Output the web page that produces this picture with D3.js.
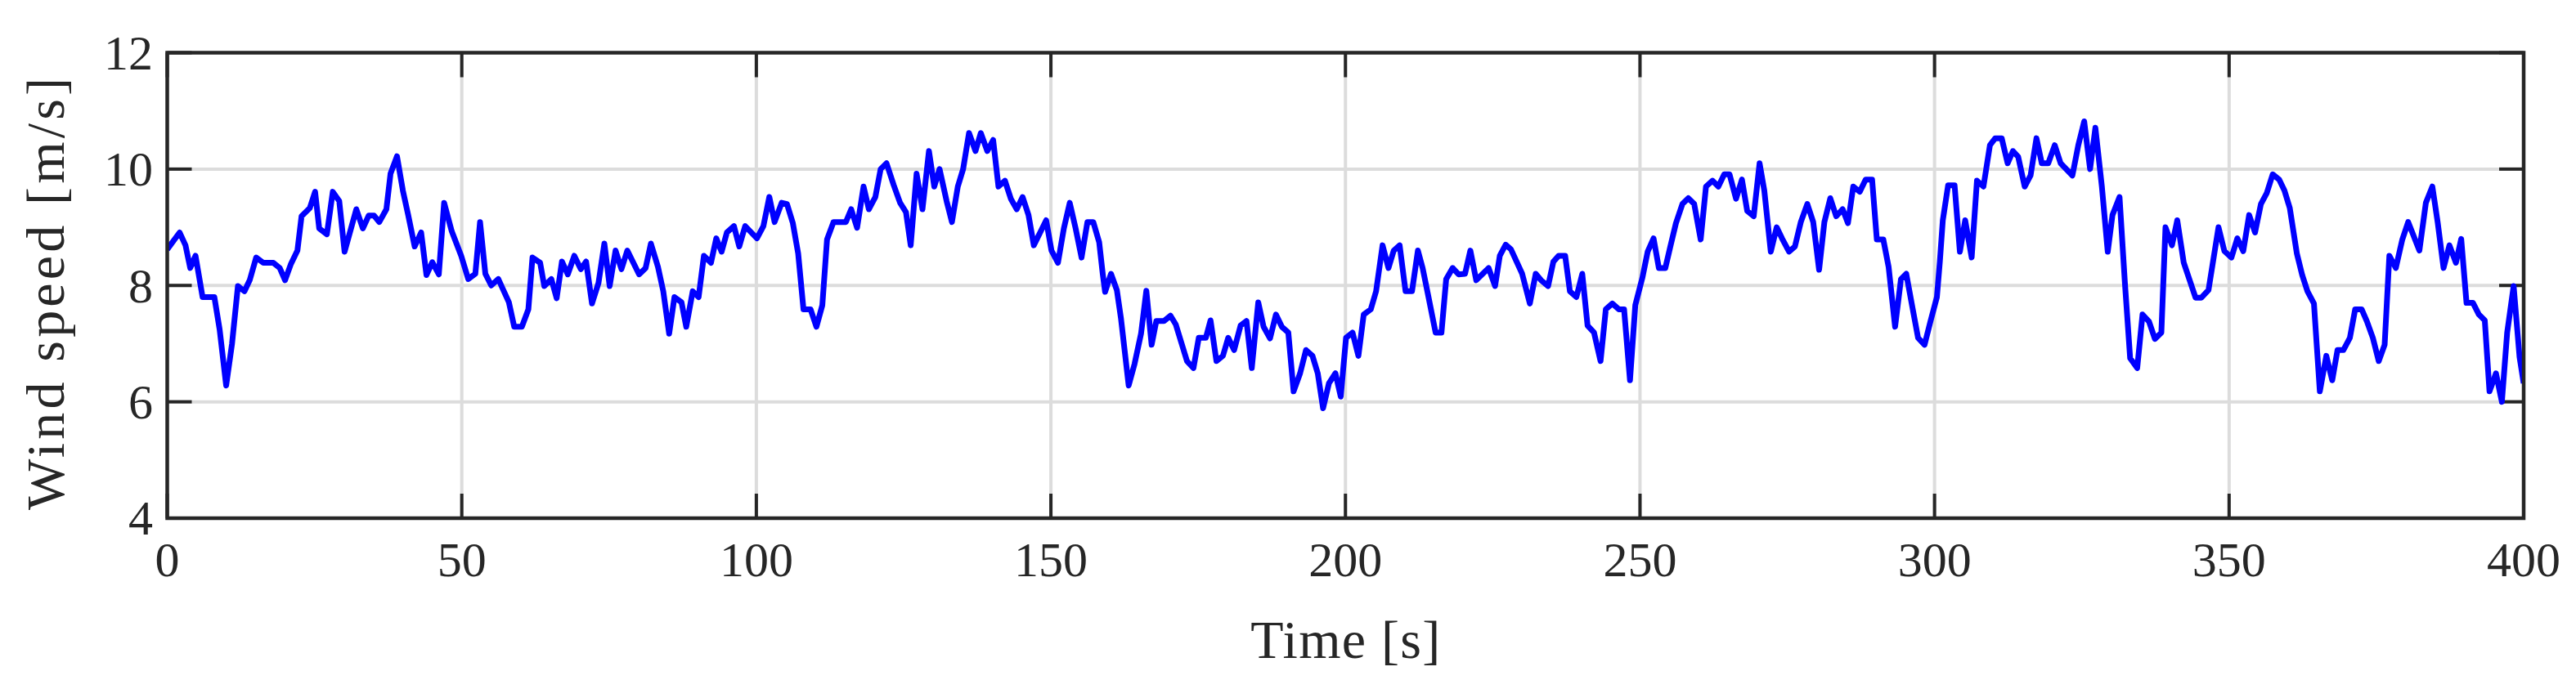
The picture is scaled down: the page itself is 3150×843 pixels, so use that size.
<!DOCTYPE html>
<html>
<head>
<meta charset="utf-8">
<script src="https://cdn.jsdelivr.net/npm/d3@7"></script>
<style>
  html, body { margin: 0; padding: 0; background: #ffffff; }
  svg { display: block; }
</style>
</head>
<body>
<svg id="chart" width="3150" height="843"></svg>
<script>
// ---- data ----
const timeS = [
  0, 2.1, 3.1, 3.9, 4.8, 6.0, 8.0, 8.9, 10.0, 11.0, 12.0, 13.1, 14.0, 15.1, 16.3, 18.0, 19.1, 20.0, 21.0, 22.1,
  22.8, 24.2, 25.1, 25.8, 27.1, 28.1, 29.2, 30.1, 32.1, 33.2, 34.2, 35.1, 36.0, 37.2, 37.9, 39.0, 40.0, 40.9, 42.0, 43.1,
  44.0, 45.0, 46.1, 47.0, 48.3, 49.9, 51.1, 52.3, 53.1, 54.0, 55.0, 56.2, 58.0, 58.9, 60.2, 61.3, 62.0, 63.3, 64.0, 65.2,
  66.1, 67.0, 68.0, 69.1, 70.2, 71.1, 72.1, 73.2, 74.2, 75.1, 76.1, 77.1, 78.1, 80.1, 81.2, 82.1, 83.3, 84.2, 85.2, 86.1,
  87.3, 88.1, 89.2, 90.2, 91.1, 92.3, 93.2, 94.1, 95.0, 96.2, 97.1, 98.1, 100.1, 101.2, 102.2, 103.1, 104.3, 105.2, 106.2, 107.1,
  108.0, 109.2, 110.2, 111.2, 112.0, 113.1, 115.2, 116.1, 117.1, 118.2, 119.1, 120.2, 121.1, 122.1, 123.3, 124.4, 125.4, 126.2, 127.2, 128.2,
  129.3, 130.2, 131.1, 132.3, 133.2, 134.2, 135.1, 136.1, 137.2, 138.1, 139.2, 140.2, 141.1, 142.2, 143.2, 144.2, 145.2, 146.2, 147.1, 149.2,
  150.1, 151.2, 152.2, 153.2, 154.2, 155.2, 156.2, 157.2, 158.2, 158.8, 159.2, 160.2, 161.2, 161.9, 163.2, 164.2, 165.3, 166.2, 167.1, 167.9,
  169.2, 170.3, 171.2, 173.1, 174.2, 175.1, 176.3, 177.1, 178.1, 179.2, 180.1, 181.1, 182.2, 183.2, 184.1, 185.2, 186.1, 187.2, 188.2, 189.2,
  190.3, 191.2, 192.3, 193.3, 194.4, 195.3, 196.2, 197.2, 198.3, 199.2, 200.1, 201.2, 202.2, 203.1, 204.3, 205.2, 206.3, 207.3, 208.2, 209.2,
  210.2, 211.3, 212.3, 213.1, 214.1, 215.3, 216.3, 217.1, 218.2, 219.2, 220.3, 221.2, 222.2, 223.3, 224.3, 225.4, 226.2, 227.2, 228.1, 230.0,
  231.3, 232.3, 233.2, 234.4, 235.3, 236.2, 237.3, 238.1, 239.2, 240.2, 241.1, 242.2, 243.3, 244.2, 245.3, 246.4, 247.3, 248.3, 249.2, 250.4,
  251.3, 252.3, 253.2, 254.3, 255.2, 256.1, 257.2, 258.2, 259.2, 260.3, 261.2, 262.3, 263.3, 264.3, 265.2, 266.3, 267.3, 268.2, 269.3, 270.3,
  271.1, 272.2, 273.2, 274.1, 275.3, 276.3, 277.3, 278.4, 279.4, 280.4, 281.3, 282.3, 283.3, 284.4, 285.3, 286.2, 287.3, 288.3, 289.4, 290.2,
  291.3, 292.2, 293.3, 294.3, 295.2, 296.3, 297.2, 298.3, 299.3, 300.4, 300.9, 301.4, 302.3, 303.4, 304.3, 305.2, 306.3, 307.2, 308.3, 309.4,
  310.3, 311.4, 312.4, 313.3, 314.2, 315.3, 316.3, 317.3, 318.2, 319.3, 320.4, 321.4, 323.4, 324.4, 325.4, 326.4, 327.3, 328.4, 329.4, 330.2,
  331.4, 332.3, 333.2, 334.4, 335.3, 336.4, 337.4, 338.5, 339.2, 340.3, 341.2, 342.3, 344.3, 345.3, 346.5, 348.2, 349.2, 350.4, 351.4, 352.4,
  353.4, 354.4, 355.4, 356.4, 357.4, 358.5, 359.4, 360.3, 361.5, 362.4, 363.3, 364.4, 365.4, 366.5, 367.5, 368.4, 369.4, 370.5, 371.4, 372.5,
  373.4, 374.4, 375.4, 376.4, 377.2, 378.3, 379.4, 380.4, 382.3, 383.4, 384.5, 385.4, 386.4, 387.4, 388.5, 389.4, 390.3, 391.4, 392.4, 393.4,
  394.2, 395.3, 396.3, 397.2, 398.3, 399.3, 400.0
];
const windSpeed = [
  8.62, 8.91, 8.69, 8.30, 8.51, 7.80, 7.80, 7.24, 6.28, 7.00, 7.99, 7.90, 8.09, 8.48, 8.39, 8.39, 8.30, 8.09, 8.37, 8.60,
  9.19, 9.33, 9.61, 8.98, 8.88, 9.61, 9.45, 8.58, 9.31, 8.98, 9.20, 9.20, 9.09, 9.31, 9.92, 10.22, 9.63, 9.21, 8.67, 8.91,
  8.18, 8.40, 8.19, 9.42, 8.93, 8.51, 8.11, 8.20, 9.09, 8.20, 8.00, 8.11, 7.71, 7.29, 7.29, 7.59, 8.48, 8.39, 7.99, 8.11,
  7.78, 8.41, 8.19, 8.51, 8.28, 8.41, 7.69, 8.04, 8.72, 7.99, 8.60, 8.28, 8.60, 8.19, 8.30, 8.72, 8.32, 7.90, 7.17, 7.80,
  7.71, 7.29, 7.90, 7.80, 8.51, 8.39, 8.81, 8.58, 8.91, 9.02, 8.67, 9.02, 8.81, 9.02, 9.52, 9.09, 9.42, 9.40, 9.07, 8.55,
  7.59, 7.59, 7.29, 7.66, 8.79, 9.09, 9.09, 9.31, 8.99, 9.70, 9.31, 9.52, 10.00, 10.10, 9.73, 9.42, 9.26, 8.69, 9.92, 9.31,
  10.31, 9.70, 10.00, 9.45, 9.09, 9.70, 10.00, 10.62, 10.31, 10.62, 10.31, 10.50, 9.70, 9.80, 9.49, 9.31, 9.52, 9.21, 8.69, 9.12,
  8.60, 8.39, 8.98, 9.42, 8.98, 8.48, 9.09, 9.09, 8.74, 8.20, 7.89, 8.20, 7.92, 7.43, 6.28, 6.65, 7.17, 7.91, 6.98, 7.39,
  7.39, 7.48, 7.33, 6.70, 6.58, 7.10, 7.10, 7.40, 6.70, 6.79, 7.10, 6.89, 7.31, 7.39, 6.58, 7.71, 7.29, 7.09, 7.50, 7.29,
  7.19, 6.18, 6.49, 6.89, 6.79, 6.49, 5.89, 6.32, 6.49, 6.09, 7.10, 7.19, 6.79, 7.50, 7.59, 7.90, 8.69, 8.30, 8.60, 8.69,
  7.90, 7.90, 8.60, 8.30, 7.80, 7.19, 7.19, 8.11, 8.30, 8.19, 8.20, 8.60, 8.09, 8.20, 8.30, 7.99, 8.51, 8.70, 8.62, 8.20,
  7.69, 8.20, 8.09, 7.99, 8.41, 8.51, 8.51, 7.90, 7.80, 8.20, 7.31, 7.19, 6.70, 7.59, 7.69, 7.59, 7.59, 6.37, 7.66, 8.13,
  8.58, 8.81, 8.30, 8.30, 8.69, 9.07, 9.40, 9.50, 9.40, 8.79, 9.70, 9.80, 9.70, 9.91, 9.91, 9.49, 9.82, 9.28, 9.19, 10.10,
  9.63, 8.58, 9.00, 8.81, 8.58, 8.67, 9.09, 9.40, 9.09, 8.27, 9.09, 9.50, 9.19, 9.31, 9.07, 9.70, 9.61, 9.82, 9.82, 8.79,
  8.79, 8.32, 7.29, 8.11, 8.20, 7.59, 7.10, 6.98, 7.38, 7.80, 8.41, 9.12, 9.72, 9.72, 8.58, 9.12, 8.48, 9.80, 9.70, 10.41,
  10.53, 10.53, 10.10, 10.31, 10.21, 9.70, 9.89, 10.53, 10.10, 10.10, 10.41, 10.10, 9.89, 10.41, 10.82, 10.00, 10.71, 9.70, 8.58, 9.21,
  9.52, 8.06, 6.75, 6.58, 7.50, 7.38, 7.08, 7.19, 9.00, 8.69, 9.12, 8.39, 7.79, 7.79, 7.92, 9.00, 8.59, 8.48, 8.81, 8.59,
  9.21, 8.91, 9.40, 9.59, 9.91, 9.82, 9.63, 9.33, 8.55, 8.18, 7.90, 7.69, 6.18, 6.79, 6.37, 6.89, 6.89, 7.10, 7.59, 7.59,
  7.38, 7.10, 6.70, 6.98, 8.51, 8.30, 8.79, 9.09, 8.60, 9.42, 9.70, 9.09, 8.30, 8.69, 8.39, 8.80, 7.70, 7.70, 7.50, 7.40,
  6.18, 6.49, 6.00, 7.19, 7.99, 6.77, 6.32
];
const xTicks = [0, 50, 100, 150, 200, 250, 300, 350, 400];
const yTicks = [4, 6, 8, 10, 12];
const xLabel = "Time [s]";
const yLabel = "Wind speed [m/s]";

// ---- layout ----
const svg = d3.select("#chart");
const W = 3150, H = 843;
const plotL = 204.5, plotR = 3086, plotT = 64.5, plotB = 634;
const axisColor = "#262626";
const fontFamily = "'Liberation Serif', 'Times New Roman', serif";

svg.append("rect").attr("x", 0).attr("y", 0).attr("width", W).attr("height", H).attr("fill", "#ffffff");

const x = d3.scaleLinear().domain([0, 400]).range([plotL, plotR]);
const y = d3.scaleLinear().domain([4, 12]).range([plotB, plotT]);

// grid
const grid = svg.append("g");
grid.selectAll("line.gx").data(xTicks.slice(1, -1)).join("line")
  .attr("x1", d => x(d)).attr("x2", d => x(d))
  .attr("y1", plotT).attr("y2", plotB)
  .attr("stroke", "#dcdcdc").attr("stroke-width", 4);
grid.selectAll("line.gy").data(yTicks.slice(1, -1)).join("line")
  .attr("x1", plotL).attr("x2", plotR)
  .attr("y1", d => y(d)).attr("y2", d => y(d))
  .attr("stroke", "#dcdcdc").attr("stroke-width", 4);

// tick marks (inside, on all four sides)
const tickLen = 30;
const ticks = svg.append("g").attr("stroke", axisColor).attr("stroke-width", 4);
xTicks.forEach(d => {
  ticks.append("line").attr("x1", x(d)).attr("x2", x(d)).attr("y1", plotB).attr("y2", plotB - tickLen);
  ticks.append("line").attr("x1", x(d)).attr("x2", x(d)).attr("y1", plotT).attr("y2", plotT + tickLen);
});
yTicks.forEach(d => {
  ticks.append("line").attr("x1", plotL).attr("x2", plotL + tickLen).attr("y1", y(d)).attr("y2", y(d));
  ticks.append("line").attr("x1", plotR).attr("x2", plotR - tickLen).attr("y1", y(d)).attr("y2", y(d));
});

// data line
const pts = timeS.map((t, i) => [t, windSpeed[i]]);
const lineGen = d3.line().x(d => x(d[0])).y(d => y(d[1]));
svg.append("defs").append("clipPath").attr("id", "clip")
  .append("rect").attr("x", plotL).attr("y", plotT).attr("width", plotR - plotL).attr("height", plotB - plotT);
svg.append("path")
  .datum(pts)
  .attr("clip-path", "url(#clip)")
  .attr("d", lineGen)
  .attr("fill", "none")
  .attr("stroke", "#0000ff")
  .attr("stroke-width", 7)
  .attr("stroke-linejoin", "round")
  .attr("stroke-linecap", "butt");

// box
svg.append("rect")
  .attr("x", plotL).attr("y", plotT).attr("width", plotR - plotL).attr("height", plotB - plotT)
  .attr("fill", "none").attr("stroke", axisColor).attr("stroke-width", 4.5);

// tick labels
const lbl = svg.append("g").attr("font-family", fontFamily).attr("fill", axisColor).attr("font-size", 60);
lbl.selectAll("text.xt").data(xTicks).join("text")
  .attr("x", d => x(d)).attr("y", 705)
  .attr("text-anchor", "middle")
  .text(d => d3.format("d")(d));
lbl.selectAll("text.yt").data(yTicks).join("text")
  .attr("x", 187).attr("y", d => y(d))
  .attr("dy", "0.34em")
  .attr("text-anchor", "end")
  .text(d => d3.format("d")(d));

// axis labels
svg.append("text")
  .attr("x", (plotL + plotR) / 2).attr("y", 805)
  .attr("text-anchor", "middle")
  .attr("font-family", fontFamily).attr("font-size", 66).attr("fill", axisColor)
  .attr("textLength", 232).attr("lengthAdjust", "spacing")
  .text(xLabel);
svg.append("text")
  .attr("transform", `translate(78, 359.5) rotate(-90)`)
  .attr("text-anchor", "middle")
  .attr("font-family", fontFamily).attr("font-size", 66).attr("fill", axisColor)
  .attr("textLength", 529).attr("lengthAdjust", "spacing")
  .text(yLabel);
</script>
</body>
</html>
